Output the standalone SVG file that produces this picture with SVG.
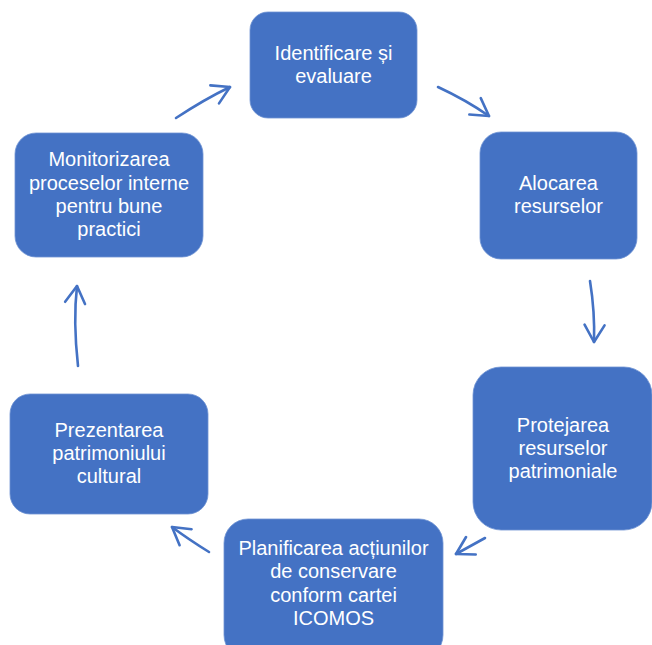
<svg xmlns="http://www.w3.org/2000/svg" width="652" height="645" viewBox="0 0 652 645">
<defs>
<style>
.node rect{fill:#4472C4;stroke:#6f93d3;stroke-width:0.8}
.node text{font-family:"Liberation Sans",Arial,sans-serif;font-size:20px;fill:#ffffff;text-anchor:middle}
.conn path{fill:none;stroke:#4472C4;stroke-width:2.6;stroke-linecap:round}
</style>
<marker id="ah" markerUnits="userSpaceOnUse" markerWidth="30" markerHeight="30" viewBox="-22 -15 30 30" refX="0" refY="0" orient="auto" overflow="visible">
<path d="M-17,-10 L0,0 L-17,10" fill="none" stroke="#4472C4" stroke-width="2.6" stroke-linecap="round" stroke-linejoin="round"/>
</marker>
</defs>
<rect width="652" height="645" fill="#ffffff"/>
<g class="conn">
<path d="M176,118 Q205,99 230,87" marker-end="url(#ah)"/>
<path d="M438,87 Q466,100 489,116" marker-end="url(#ah)"/>
<path d="M590,281 Q595,312 594,342" marker-end="url(#ah)"/>
<path d="M485,538 L456,554" marker-end="url(#ah)"/>
<path d="M209,552 Q188,539 172,527" marker-end="url(#ah)"/>
<path d="M78,366 Q73,321 77,286" marker-end="url(#ah)"/>
</g>
<g id="n1" class="node">
<rect x="250" y="12" width="167" height="106" rx="18"/>
<text x="333.5" y="60">Identificare și</text>
<text x="333.5" y="83">evaluare</text>
</g>
<g id="n2" class="node">
<rect x="480" y="132" width="157" height="127" rx="21"/>
<text x="558.5" y="190">Alocarea</text>
<text x="558.5" y="213">resurselor</text>
</g>
<g id="n3" class="node">
<rect x="473" y="367" width="179" height="163" rx="28"/>
<text x="563" y="432">Protejarea</text>
<text x="563" y="455">resurselor</text>
<text x="563" y="478">patrimoniale</text>
</g>
<g id="n4" class="node">
<rect x="224" y="519" width="219" height="140" rx="24"/>
<text x="333.5" y="555">Planificarea acțiunilor</text>
<text x="333.5" y="578">de conservare</text>
<text x="333.5" y="602">conform cartei</text>
<text x="333.5" y="625">ICOMOS</text>
</g>
<g id="n5" class="node">
<rect x="10" y="394" width="198" height="120" rx="20"/>
<text x="109" y="437">Prezentarea</text>
<text x="109" y="460">patrimoniului</text>
<text x="109" y="483">cultural</text>
</g>
<g id="n6" class="node">
<rect x="15" y="133" width="188" height="124" rx="21"/>
<text x="109" y="166">Monitorizarea</text>
<text x="109" y="190">proceselor interne</text>
<text x="109" y="213">pentru bune</text>
<text x="109" y="236">practici</text>
</g>
</svg>
